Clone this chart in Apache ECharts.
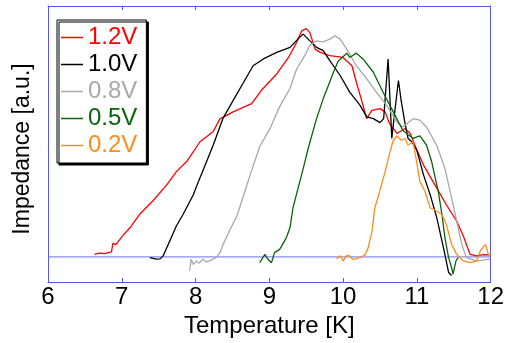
<!DOCTYPE html>
<html>
<head>
<meta charset="utf-8">
<script src="https://cdn.jsdelivr.net/npm/echarts@6/dist/echarts.min.js"></script>
<style>html,body{margin:0;padding:0;background:#fff;}#c{width:507px;height:343px;}</style>
</head>
<body>
<div id="c"></div>
<script>
// Temperature [K] and impedance [a.u.] pairs
const seriesNames = ['1.2V', '1.0V', '0.8V', '0.5V', '0.2V'];
const seriesColors = ['#ff0000', '#000000', '#a8a8a8', '#0a640a', '#ff8c1a'];
const xTicks = [6, 7, 8, 9, 10, 11, 12];
const baseline = [[6, 0], [12, 0]];

const v12 = [[6.63,1.0],[6.70,1.5],[6.77,1.3],[6.83,1.8],[6.86,2.0],[6.88,5.4],[6.92,4.9],[7.0,8.0],[7.11,11.6],[7.24,16.9],[7.42,22.3],[7.61,28.7],[7.74,34.0],[7.88,38.0],[8.06,45.9],[8.24,50.0],[8.33,55.0],[8.51,57.8],[8.76,61.1],[8.89,66.3],[9.10,72.9],[9.26,79.5],[9.37,85.5],[9.44,90.1],[9.50,91.0],[9.55,89.4],[9.62,82.8],[9.69,81.5],[9.82,80.2],[10.0,79.5],[10.12,76.2],[10.18,69.6],[10.27,60.4],[10.32,55.1],[10.39,58.4],[10.50,59.1],[10.57,57.8],[10.63,53.1],[10.73,49.2],[10.84,51.2],[10.91,49.2],[11.0,42.6],[11.09,36.6],[11.27,27.4],[11.40,20.8],[11.54,14.2],[11.63,8.3],[11.72,1.0],[11.81,0.4],[11.90,0.9],[11.99,0.8]];

const v10 = [[7.38,-0.3],[7.47,-0.9],[7.52,-0.8],[7.56,0.4],[7.65,6.3],[7.74,12.3],[7.83,16.9],[7.97,24.8],[8.03,29.4],[8.15,38.0],[8.24,44.6],[8.37,55.1],[8.51,62.4],[8.64,69.0],[8.78,76.2],[8.92,78.9],[9.10,81.5],[9.28,83.5],[9.41,87.5],[9.46,88.8],[9.55,86.1],[9.64,83.5],[9.73,82.2],[9.82,78.2],[9.96,72.3],[10.09,65.7],[10.23,60.4],[10.32,55.8],[10.41,55.1],[10.50,53.5],[10.55,55.1],[10.61,78.9],[10.66,47.2],[10.70,57.8],[10.75,70.3],[10.79,61.7],[10.84,53.1],[10.88,47.2],[10.93,45.9],[11.0,42.5],[11.09,32.7],[11.18,24.8],[11.27,15.6],[11.36,3.7],[11.43,-6.2],[11.47,-7.4]];

const v08 = [[7.92,-5.5],[7.94,-0.9],[7.97,-3.0],[8.01,-1.6],[8.05,-2.5],[8.10,-0.9],[8.15,-2.0],[8.19,-1.6],[8.28,-0.3],[8.33,1.7],[8.37,4.7],[8.46,10.4],[8.56,16.3],[8.64,23.5],[8.74,32.7],[8.87,44.0],[9.01,51.2],[9.14,59.9],[9.28,67.1],[9.37,74.9],[9.48,80.2],[9.55,84.4],[9.64,86.1],[9.73,85.7],[9.82,86.8],[9.89,88.1],[9.96,86.8],[10.05,82.8],[10.18,76.2],[10.32,71.0],[10.45,65.7],[10.59,60.4],[10.73,53.8],[10.81,51.8],[10.95,55.1],[11.04,54.5],[11.13,51.8],[11.27,44.4],[11.38,35.3],[11.47,23.5],[11.54,14.2],[11.61,5.0],[11.67,-0.3],[11.81,-1.6],[11.99,-0.9]];

const v05 = [[8.87,-2.3],[8.94,1.0],[8.98,-0.9],[9.03,-2.3],[9.07,1.7],[9.14,3.0],[9.23,7.6],[9.28,11.6],[9.32,19.5],[9.39,27.4],[9.46,35.3],[9.53,43.6],[9.64,55.1],[9.73,63.0],[9.80,68.3],[9.87,73.6],[9.93,77.9],[10.05,81.2],[10.09,79.5],[10.18,81.2],[10.27,78.9],[10.41,73.6],[10.54,65.7],[10.68,57.8],[10.81,50.4],[10.95,47.2],[11.04,48.2],[11.13,44.6],[11.20,38.0],[11.24,32.7],[11.29,26.1],[11.34,16.9],[11.38,7.6],[11.43,-0.3],[11.47,-4.2],[11.49,-6.9],[11.53,-1.6],[11.56,-0.3]];

const v02 = [[9.91,-0.7],[9.96,0.4],[10.0,-1.6],[10.05,0.6],[10.09,0.4],[10.13,-1.0],[10.18,-0.7],[10.23,-0.3],[10.30,0.9],[10.34,3.7],[10.39,10.0],[10.43,19.5],[10.50,26.6],[10.57,34.0],[10.63,41.3],[10.68,46.4],[10.73,48.2],[10.79,46.5],[10.84,47.2],[10.88,44.6],[10.95,45.9],[11.0,37.3],[11.04,30.1],[11.11,26.1],[11.18,19.5],[11.24,18.8],[11.34,16.9],[11.40,12.9],[11.47,5.0],[11.54,1.0],[11.63,-1.6],[11.72,-2.3],[11.81,-1.6],[11.86,2.4],[11.93,5.0],[11.97,1.0],[12.0,0.4]];

const allData = [v12, v10, v08, v05, v02];

const FONT = 'Liberation Sans, Arial, sans-serif';
const FRAME = '#5656e0';

const chart = echarts.init(document.getElementById('c'), null, {renderer: 'canvas'});

const series = [{
  name: 'baseline',
  type: 'line',
  data: baseline,
  showSymbol: false,
  symbol: 'none',
  silent: true,
  lineStyle: {color: '#6e6ee8', width: 1},
  itemStyle: {color: '#6e6ee8'},
  z: 1
}].concat(seriesNames.map((n, i) => ({
  name: n,
  type: 'line',
  data: allData[i],
  showSymbol: false,
  symbol: 'none',
  lineStyle: {color: seriesColors[i], width: 1.3},
  itemStyle: {color: seriesColors[i]},
  z: 3 + i
})));

chart.setOption({
  animation: false,
  backgroundColor: '#ffffff',
  grid: {left: 48, right: 16, top: 6, bottom: 59, containLabel: false},
  legend: {
    orient: 'vertical',
    left: 57, top: 20,
    padding: [4, 9, 4, 4],
    itemGap: 0,
    itemWidth: 22, itemHeight: 1.5,
    backgroundColor: '#ffffff',
    borderColor: '#000000', borderWidth: 1,
    shadowColor: '#000000', shadowBlur: 0, shadowOffsetX: 2, shadowOffsetY: 2,
    textStyle: {fontFamily: FONT, fontSize: 24, lineHeight: 27},
    data: seriesNames.map((n, i) => ({name: n, icon: 'rect', textStyle: {color: seriesColors[i]}, itemStyle: {color: seriesColors[i]}}))
  },
  xAxis: [{
    type: 'value', min: xTicks[0], max: xTicks[xTicks.length - 1], interval: 1,
    position: 'bottom',
    name: 'Temperature [K]', nameLocation: 'middle', nameGap: 32,
    nameTextStyle: {fontFamily: FONT, fontSize: 24, color: '#000'},
    axisLine: {show: true, onZero: false, lineStyle: {color: FRAME, width: 1}},
    axisTick: {show: true, inside: true, length: 4, lineStyle: {color: FRAME}},
    axisLabel: {fontFamily: FONT, fontSize: 24, color: '#000', margin: 3},
    splitLine: {show: false}
  }, {
    type: 'value', min: xTicks[0], max: xTicks[xTicks.length - 1], interval: 1,
    position: 'top',
    axisLine: {show: true, onZero: false, lineStyle: {color: FRAME, width: 1}},
    axisTick: {show: true, inside: true, length: 4, lineStyle: {color: FRAME}},
    axisLabel: {show: false},
    splitLine: {show: false}
  }],
  yAxis: [{
    type: 'value', min: -10, max: 100,
    position: 'left',
    name: 'Impedance [a.u.]', nameLocation: 'middle', nameGap: 14,
    nameTextStyle: {fontFamily: FONT, fontSize: 23, color: '#000', padding: [0, 10, 0, 0]},
    axisLine: {show: true, onZero: false, lineStyle: {color: FRAME, width: 1}},
    axisTick: {show: false},
    axisLabel: {show: false},
    splitLine: {show: false}
  }, {
    type: 'value', min: -10, max: 100,
    position: 'right',
    axisLine: {show: true, onZero: false, lineStyle: {color: FRAME, width: 1}},
    axisTick: {show: false},
    axisLabel: {show: false},
    splitLine: {show: false}
  }],
  series: series
});
</script>
</body>
</html>
